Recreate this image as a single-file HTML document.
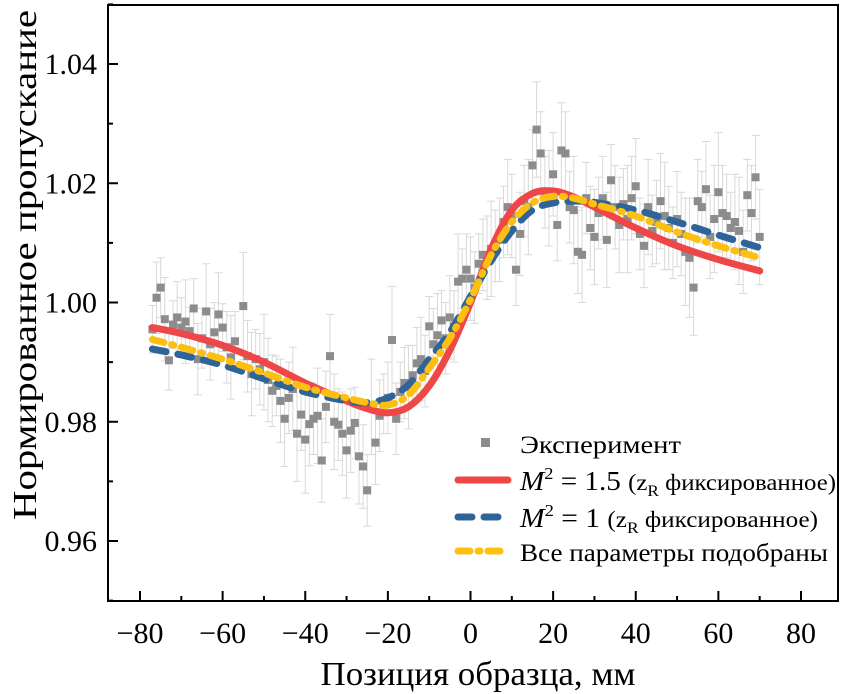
<!DOCTYPE html>
<html><head><meta charset="utf-8"><style>
body{margin:0;background:#fff}
svg{display:block;font-family:"Liberation Serif",serif}
</style></head><body>
<svg id="chart" width="855" height="694" viewBox="0 0 855 694" xmlns="http://www.w3.org/2000/svg">
<g id="errs"></g>
<g id="pts"></g>
<g id="curves"></g>
<g id="axes"></g>
<g id="legend">
  <rect x="481" y="438" width="9" height="9" fill="#8c8c8c"/>
  <text x="520" y="453" font-size="25" textLength="161" lengthAdjust="spacingAndGlyphs">Эксперимент</text>
  <line x1="458" y1="480" x2="508" y2="480" stroke="#ef4747" stroke-width="7" stroke-linecap="round"/>
  <text x="520" y="490" font-size="27" textLength="316" lengthAdjust="spacingAndGlyphs"><tspan font-style="italic">M</tspan><tspan font-size="17" dy="-11">2</tspan><tspan dy="11"> = 1.5 </tspan><tspan font-size="23">(z</tspan><tspan font-size="16" dy="6">R</tspan><tspan font-size="23" dy="-6"> фиксированное)</tspan></text>
  <line x1="458" y1="517" x2="508" y2="517" stroke="#2f6499" stroke-width="7" stroke-linecap="round" stroke-dasharray="14 12"/>
  <text x="520" y="527" font-size="27" textLength="298" lengthAdjust="spacingAndGlyphs"><tspan font-style="italic">M</tspan><tspan font-size="17" dy="-11">2</tspan><tspan dy="11"> = 1 </tspan><tspan font-size="23">(z</tspan><tspan font-size="16" dy="6">R</tspan><tspan font-size="23" dy="-6"> фиксированное)</tspan></text>
  <line x1="458" y1="551" x2="508" y2="551" stroke="#fdc010" stroke-width="7" stroke-linecap="round" stroke-dasharray="12 8 2 8"/>
  <text x="520" y="561" font-size="25" textLength="308" lengthAdjust="spacingAndGlyphs">Все параметры подобраны</text>
</g>
<text x="478" y="685" font-size="34" textLength="315" lengthAdjust="spacingAndGlyphs" text-anchor="middle">Позиция образца, мм</text>
<text transform="translate(36,265) rotate(-90)" font-size="34" textLength="510" lengthAdjust="spacingAndGlyphs" text-anchor="middle">Нормированное пропускание</text>
</svg>
<script>
const xTicks=[-80,-60,-40,-20,0,20,40,60,80];
const xTickLabels=["\u221280","\u221260","\u221240","\u221220","0","20","40","60","80"];
const yTicks=[0.96,0.98,1.00,1.02,1.04];
const yTickLabels=["0.96","0.98","1.00","1.02","1.04"];
const expX=[-77,-76,-75,-74,-73,-72,-71,-70,-69,-68,-67,-66,-65,-64,-63,-62,-61,-60,-59,-58,-57,-55,-54,-53,-52,-51,-50,-49,-48,-47,-46,-45,-44,-43,-42,-41,-40,-39,-38,-37,-36,-35,-34,-33,-32,-31,-30,-29,-28,-27,-26,-25,-24,-23,-22,-21,-20,-19,-18,-17,-16,-15,-14,-13,-12,-11,-10,-9,-8,-7,-6,-5,-4,-3,-2,-1,0,1,2,3,4,5,6,7,8,9,10,11,12,13,14,15,16,17,18,19,20,21,22,23,24,25,26,27,28,29,30,31,32,33,34,35,36,37,38,39,40,41,42,43,44,45,46,47,48,49,50,51,52,53,54,55,56,57,58,59,60,61,62,63,64,65,66,67,68,69,70];
const expY=[0.9955,1.0008,1.0025,0.9972,0.9903,0.9963,0.9975,0.9958,0.9968,0.9952,0.9990,0.9905,0.9940,0.9985,0.9930,0.9950,0.9980,0.9958,0.9925,0.9908,0.9935,0.9994,0.9910,0.9880,0.9905,0.9888,0.9900,0.9870,0.9852,0.9860,0.9835,0.9805,0.9840,0.9855,0.9780,0.9812,0.9770,0.9796,0.9805,0.9810,0.9735,0.9825,0.9910,0.9800,0.9795,0.9780,0.9752,0.9785,0.9798,0.9742,0.9725,0.9685,0.9825,0.9765,0.9810,0.9830,0.9840,0.9937,0.9805,0.9850,0.9865,0.9858,0.9878,0.9898,0.9905,0.9885,0.9960,0.9930,0.9945,0.9970,0.9940,0.9975,0.9960,1.0035,1.0040,1.0055,1.0040,1.0025,1.0065,1.0080,1.0075,1.0090,1.0095,1.0105,1.0135,1.0160,1.0145,1.0055,1.0115,1.0170,1.0160,1.0230,1.0290,1.0250,1.0185,1.0175,1.0215,1.0130,1.0255,1.0250,1.0160,1.0155,1.0085,1.0080,1.0175,1.0125,1.0110,1.0150,1.0175,1.0105,1.0205,1.0160,1.0130,1.0165,1.0140,1.0175,1.0195,1.0115,1.0095,1.0160,1.0120,1.0135,1.0170,1.0145,1.0125,1.0100,1.0140,1.0115,1.0085,1.0075,1.0025,1.0170,1.0160,1.0190,1.0110,1.0140,1.0185,1.0150,1.0145,1.0125,1.0135,1.0120,1.0085,1.0180,1.0150,1.0210,1.0110];
const expErr=[0.004,0.006,0.005,0.007,0.005,0.004,0.006,0.005,0.007,0.004,0.005,0.006,0.005,0.008,0.006,0.005,0.007,0.004,0.006,0.007,0.005,0.009,0.006,0.007,0.005,0.006,0.008,0.007,0.006,0.005,0.007,0.008,0.006,0.007,0.008,0.006,0.009,0.007,0.006,0.008,0.007,0.006,0.007,0.008,0.006,0.007,0.008,0.007,0.006,0.008,0.007,0.006,0.008,0.007,0.006,0.005,0.006,0.009,0.006,0.005,0.006,0.007,0.005,0.006,0.007,0.006,0.005,0.006,0.007,0.005,0.006,0.007,0.006,0.008,0.005,0.006,0.007,0.006,0.005,0.006,0.007,0.008,0.006,0.007,0.006,0.008,0.007,0.006,0.007,0.006,0.008,0.006,0.008,0.007,0.006,0.008,0.007,0.006,0.008,0.007,0.006,0.009,0.007,0.008,0.006,0.007,0.008,0.006,0.007,0.008,0.006,0.007,0.008,0.006,0.009,0.007,0.008,0.006,0.007,0.008,0.006,0.007,0.008,0.009,0.007,0.006,0.008,0.007,0.009,0.010,0.008,0.007,0.006,0.008,0.007,0.009,0.010,0.008,0.007,0.006,0.008,0.009,0.007,0.006,0.008,0.007,0.008];
const fitX=[-77,-70,-60,-50,-40,-30,-25,-20,-15,-10,-5,0,5,10,15,20,25,30,40,50,60,70];
const fitM15=[0.9958,0.9948,0.9928,0.9900,0.9865,0.9835,0.9822,0.9815,0.9825,0.9860,0.9920,1.0000,1.0090,1.0155,1.0183,1.0187,1.0177,1.0160,1.0125,1.0095,1.0072,1.0053];
const fitM1=[0.9922,0.9912,0.9895,0.9872,0.9850,0.9835,0.9832,0.9840,0.9862,0.9905,0.9950,1.0010,1.0070,1.0120,1.0155,1.0167,1.0170,1.0168,1.0155,1.0135,1.0113,1.0092];
const fitAll=[0.9938,0.9925,0.9905,0.9882,0.9858,0.9840,0.9832,0.9828,0.9845,0.9890,0.9940,1.0005,1.0080,1.0135,1.0167,1.0178,1.0175,1.0165,1.0145,1.0118,1.0095,1.0075];

const L=108,R=838,T=5,B=601;
const X=v=>470.5+v*(801-140)/160;
const Y=v=>302.5-(v-1)*(541-64)/0.08;
const NS="http://www.w3.org/2000/svg";
function mk(tag,attrs,parent){const e=document.createElementNS(NS,tag);for(const k in attrs)e.setAttribute(k,attrs[k]);parent.appendChild(e);return e;}
const errs=document.getElementById('errs'),pts=document.getElementById('pts'),curves=document.getElementById('curves'),axes=document.getElementById('axes');
for(let i=0;i<expX.length;i++){
  const x=X(expX[i]),y1=Y(expY[i]+expErr[i]),y2=Y(expY[i]-expErr[i]);
  const g=mk('path',{d:`M${x},${y1}V${y2}M${x-4},${y1}H${x+4}M${x-4},${y2}H${x+4}`,stroke:'#d9d9d9','stroke-width':1,fill:'none'},errs);
  
  
  const r=mk('rect',{x:X(expX[i])-4,y:Y(expY[i])-4,width:8,height:8,fill:'#8c8c8c'},pts);
  
  
}
function smooth(xs,ys){
  const p=xs.map((v,i)=>[X(v),Y(ys[i])]);let d=`M${p[0][0]},${p[0][1]}`;
  for(let i=0;i<p.length-1;i++){const p0=p[Math.max(0,i-1)],p1=p[i],p2=p[i+1],p3=p[Math.min(p.length-1,i+2)];
    d+=`C${p1[0]+(p2[0]-p0[0])/6},${p1[1]+(p2[1]-p0[1])/6} ${p2[0]-(p3[0]-p1[0])/6},${p2[1]-(p3[1]-p1[1])/6} ${p2[0]},${p2[1]}`;}
  return d;}
let c=mk('path',{d:smooth(fitX,fitM15),stroke:'#ef4747','stroke-width':7,fill:'none','stroke-linecap':'round'},curves);


c=mk('path',{d:smooth(fitX,fitM1),stroke:'#2f6499','stroke-width':7,fill:'none','stroke-linecap':'round','stroke-dasharray':'14 12'},curves);


c=mk('path',{d:smooth(fitX,fitAll),stroke:'#fdc010','stroke-width':7,fill:'none','stroke-linecap':'round','stroke-dasharray':'12 8 2 8'},curves);


const frame=mk('rect',{x:L,y:T,width:R-L,height:B-T,fill:'none',stroke:'#000','stroke-width':2},axes);


xTicks.forEach((v,i)=>{
  mk('line',{x1:X(v),x2:X(v),y1:B,y2:B-10,stroke:'#000','stroke-width':2},axes);
  if(i<xTicks.length-1)mk('line',{x1:X(v+10),x2:X(v+10),y1:B,y2:B-5,stroke:'#000','stroke-width':2},axes);
  const t=mk('text',{x:X(v),y:643,'font-size':30,'text-anchor':'middle'},axes);t.textContent=xTickLabels[i];
  
  
});
yTicks.forEach((v,i)=>{
  mk('line',{x1:L,x2:L+10,y1:Y(v),y2:Y(v),stroke:'#000','stroke-width':2},axes);
  mk('line',{x1:L,x2:L+5,y1:Y(v+0.01),y2:Y(v+0.01),stroke:'#000','stroke-width':2},axes);
  const t=mk('text',{x:97,y:Y(v)+10,'font-size':30,'text-anchor':'end'},axes);t.textContent=yTickLabels[i];
  
  
});
mk('line',{x1:L,x2:L+5,y1:Y(0.95),y2:Y(0.95),stroke:'#000','stroke-width':2},axes);
</script>
</body></html>
